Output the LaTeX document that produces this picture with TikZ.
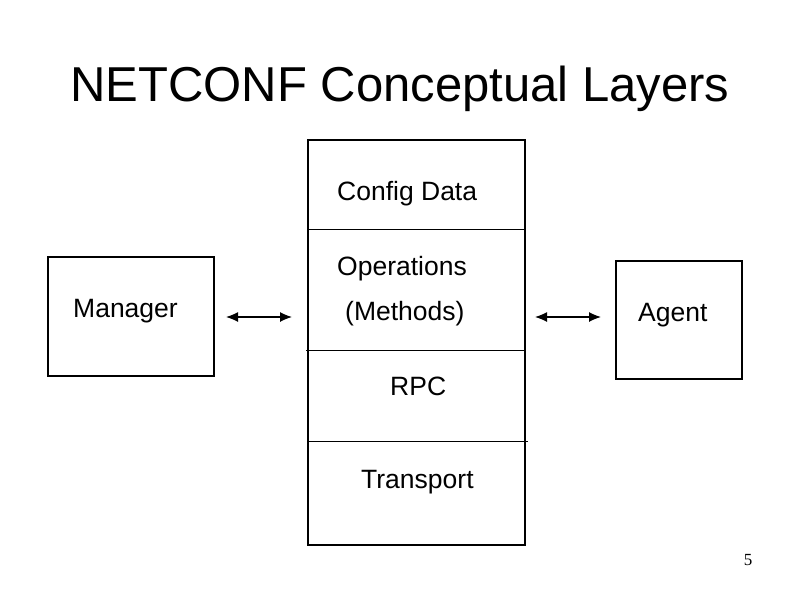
\documentclass[tikz,border=0pt]{standalone}
\usepackage{fontspec}
\setmainfont{Liberation Sans}
\newfontfamily\numfont{Liberation Serif}
\usetikzlibrary{arrows.meta}
\begin{document}
\begin{tikzpicture}[x=1pt,y=-1pt,
  box/.style={draw,line width=1.6pt},
  divider/.style={line width=1pt},
  label/.style={anchor=base west,inner sep=0pt,font=\fontsize{26.5}{30}\selectfont},
  link/.style={line width=1.2pt,{Latex[length=12pt,width=10pt]}-{Latex[length=12pt,width=10pt]}}]
  \useasboundingbox[fill=white] (0,0) rectangle (800,600);
  % title
  \node[anchor=base,inner sep=0pt,font=\fontsize{49}{56}\selectfont] (title) at (400,101) {NETCONF Conceptual Layers};
  % manager and agent boxes
  \draw[box] (48,257) rectangle (214,376);
  \node[label] (manager) at (73,317) {Manager};
  \draw[box] (616,261) rectangle (742,379);
  \node[label] (agent) at (638,321) {Agent};
  % protocol stack
  \draw[box] (308,140) rectangle (525,545);
  \coordinate (d1a) at (308,229); \coordinate (d1b) at (525,229);
  \coordinate (d2a) at (306,350); \coordinate (d2b) at (525,350);
  \coordinate (d3a) at (308,441); \coordinate (d3b) at (528,441);
  \draw[divider] (d1a) -- (d1b);
  \draw[divider] (d2a) -- (d2b);
  \draw[divider] (d3a) -- (d3b);
  \node[label] (config) at (337,200) {Config Data};
  \node[label] (ops) at (337,275) {Operations};
  \node[label] (methods) at (345,320) {(Methods)};
  \node[label] (rpc) at (390,395) {RPC};
  \node[label] (transport) at (361,488) {Transport};
  % links
  \coordinate (l1) at (226,317); \coordinate (l2) at (292,317);
  \coordinate (r1) at (535,317); \coordinate (r2) at (601,317);
  \draw[link] (l1) -- (l2);
  \draw[link] (r1) -- (r2);
  % page number
  \node[anchor=base,inner sep=0pt,font=\numfont\fontsize{17}{20}\selectfont] (page) at (748,565) {5};
\end{tikzpicture}
\end{document}
